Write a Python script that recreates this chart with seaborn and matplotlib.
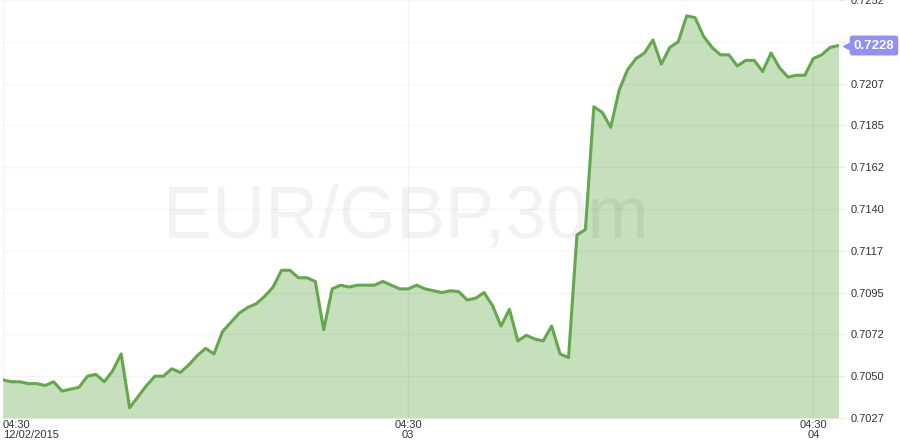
import numpy as np
import pandas as pd
import matplotlib
matplotlib.use("Agg")
import matplotlib.pyplot as plt
import matplotlib.transforms as mtransforms
import seaborn as sns

# EUR/GBP 30 minute closes, from 12/02/2015 04:30
prices = [
    0.7048, 0.7047, 0.7047, 0.7046, 0.7046, 0.7045, 0.7047, 0.7042, 0.7043, 0.7044,
    0.7050, 0.7051, 0.7047, 0.7053, 0.7062, 0.7033, 0.7039, 0.7045, 0.7050, 0.7050,
    0.7054, 0.7052, 0.7056, 0.7061, 0.7065, 0.7062, 0.7074, 0.7079, 0.7084, 0.7087,
    0.7089, 0.7093, 0.7098, 0.7107, 0.7107, 0.7103, 0.7103, 0.7101, 0.7075, 0.7097,
    0.7099, 0.7098, 0.7099, 0.7099, 0.7099, 0.7101, 0.7099, 0.7097, 0.7097, 0.7099,
    0.7097, 0.7096, 0.7095, 0.7096, 0.70955, 0.7091, 0.7092, 0.7095, 0.7088, 0.7077,
    0.7086, 0.7069, 0.7072, 0.7070, 0.7069, 0.7077, 0.7062, 0.7060, 0.7126, 0.7129,
    0.7195, 0.7192, 0.7184, 0.7204, 0.7215, 0.7221, 0.7224, 0.7231, 0.7218, 0.7227,
    0.7230, 0.7244, 0.7243, 0.7233, 0.7227, 0.7223, 0.7223, 0.7217, 0.7220, 0.7220,
    0.7214, 0.7224, 0.7216, 0.7211, 0.7212, 0.7212, 0.7221, 0.7223, 0.7227, 0.7228,
]
x_ticks = [0, 48, 96]
x_labels = ["04:30\n12/02/2015", "04:30\n03", "04:30\n04"]
y_ticks = [0.70275, 0.70500, 0.70725, 0.70950, 0.71175, 0.71400,
           0.71625, 0.71850, 0.72075, 0.72300, 0.72525]
# the 0.7230 label sits under the last-value badge, so it is left blank
y_labels = ["0.7027", "0.7050", "0.7072", "0.7095", "0.7117", "0.7140",
            "0.7162", "0.7185", "0.7207", "", "0.7252"]
last_label = "0.7228"
watermark = "EUR/GBP,30m"

df = pd.DataFrame({"t": np.arange(len(prices)), "price": prices})

sns.set_style("white")
plt.rcParams["font.family"] = ["Liberation Sans", "DejaVu Sans"]

fig = plt.figure(figsize=(9, 4.48), dpi=100)
ax = fig.add_axes([3 / 900, 30 / 448, 835.6 / 900, 418 / 448])

line_col = "#63a84b"
fill_col = "#c6dfbc"

ax.fill_between(df["t"], df["price"], y_ticks[0], color=fill_col, lw=0, zorder=1)
sns.lineplot(data=df, x="t", y="price", color=line_col, lw=2.2, ax=ax, zorder=3)

ax.set_xlim(df["t"].iloc[0], df["t"].iloc[-1])
ax.set_ylim(y_ticks[0], y_ticks[-1])

# light grid
for yv in y_ticks:
    ax.axhline(yv, color="#000000", alpha=0.04, lw=1, zorder=2)
for xv in x_ticks:
    ax.axvline(xv, color="#000000", alpha=0.04, lw=1, zorder=2)

ax.text(0.482, 0.431, watermark, transform=ax.transAxes, ha="center", va="baseline",
        fontsize=53, color="#000000", alpha=0.05, zorder=4)

for s in ax.spines.values():
    s.set_visible(False)

ax.yaxis.tick_right()
ax.set_yticks(y_ticks)
ax.set_yticklabels(y_labels)
ax.tick_params(axis="y", length=4.5, width=0.8, color="#e6e6e6", pad=4.5,
               labelsize=8, labelcolor="#333333")
ax.set_xticks(x_ticks)
ax.set_xticklabels(x_labels, linespacing=0.95)
ax.tick_params(axis="x", length=0, pad=1.5, labelsize=8, labelcolor="#333333")
ax.get_xticklabels()[0].set_horizontalalignment("left")
ax.set_xlabel("")
ax.set_ylabel("")

# last value badge
trans = mtransforms.blended_transform_factory(ax.transAxes, ax.transData)
badge = "#9090f7"
ax.plot([1.0], [prices[-1]], marker="<", ms=7, color=badge, mec=badge,
        transform=mtransforms.offset_copy(trans, fig=fig, x=9, y=0, units="dots"),
        clip_on=False, zorder=9)
ax.annotate(last_label, xy=(1.0, prices[-1]), xycoords=trans, xytext=(15, 0),
            textcoords="offset pixels", ha="left", va="center", fontsize=9.5,
            fontweight="bold", color="white", annotation_clip=False, zorder=10,
            bbox=dict(boxstyle="round,pad=0.3,rounding_size=0.2", fc=badge, ec="none"))

fig.savefig("out.png", dpi=100)
